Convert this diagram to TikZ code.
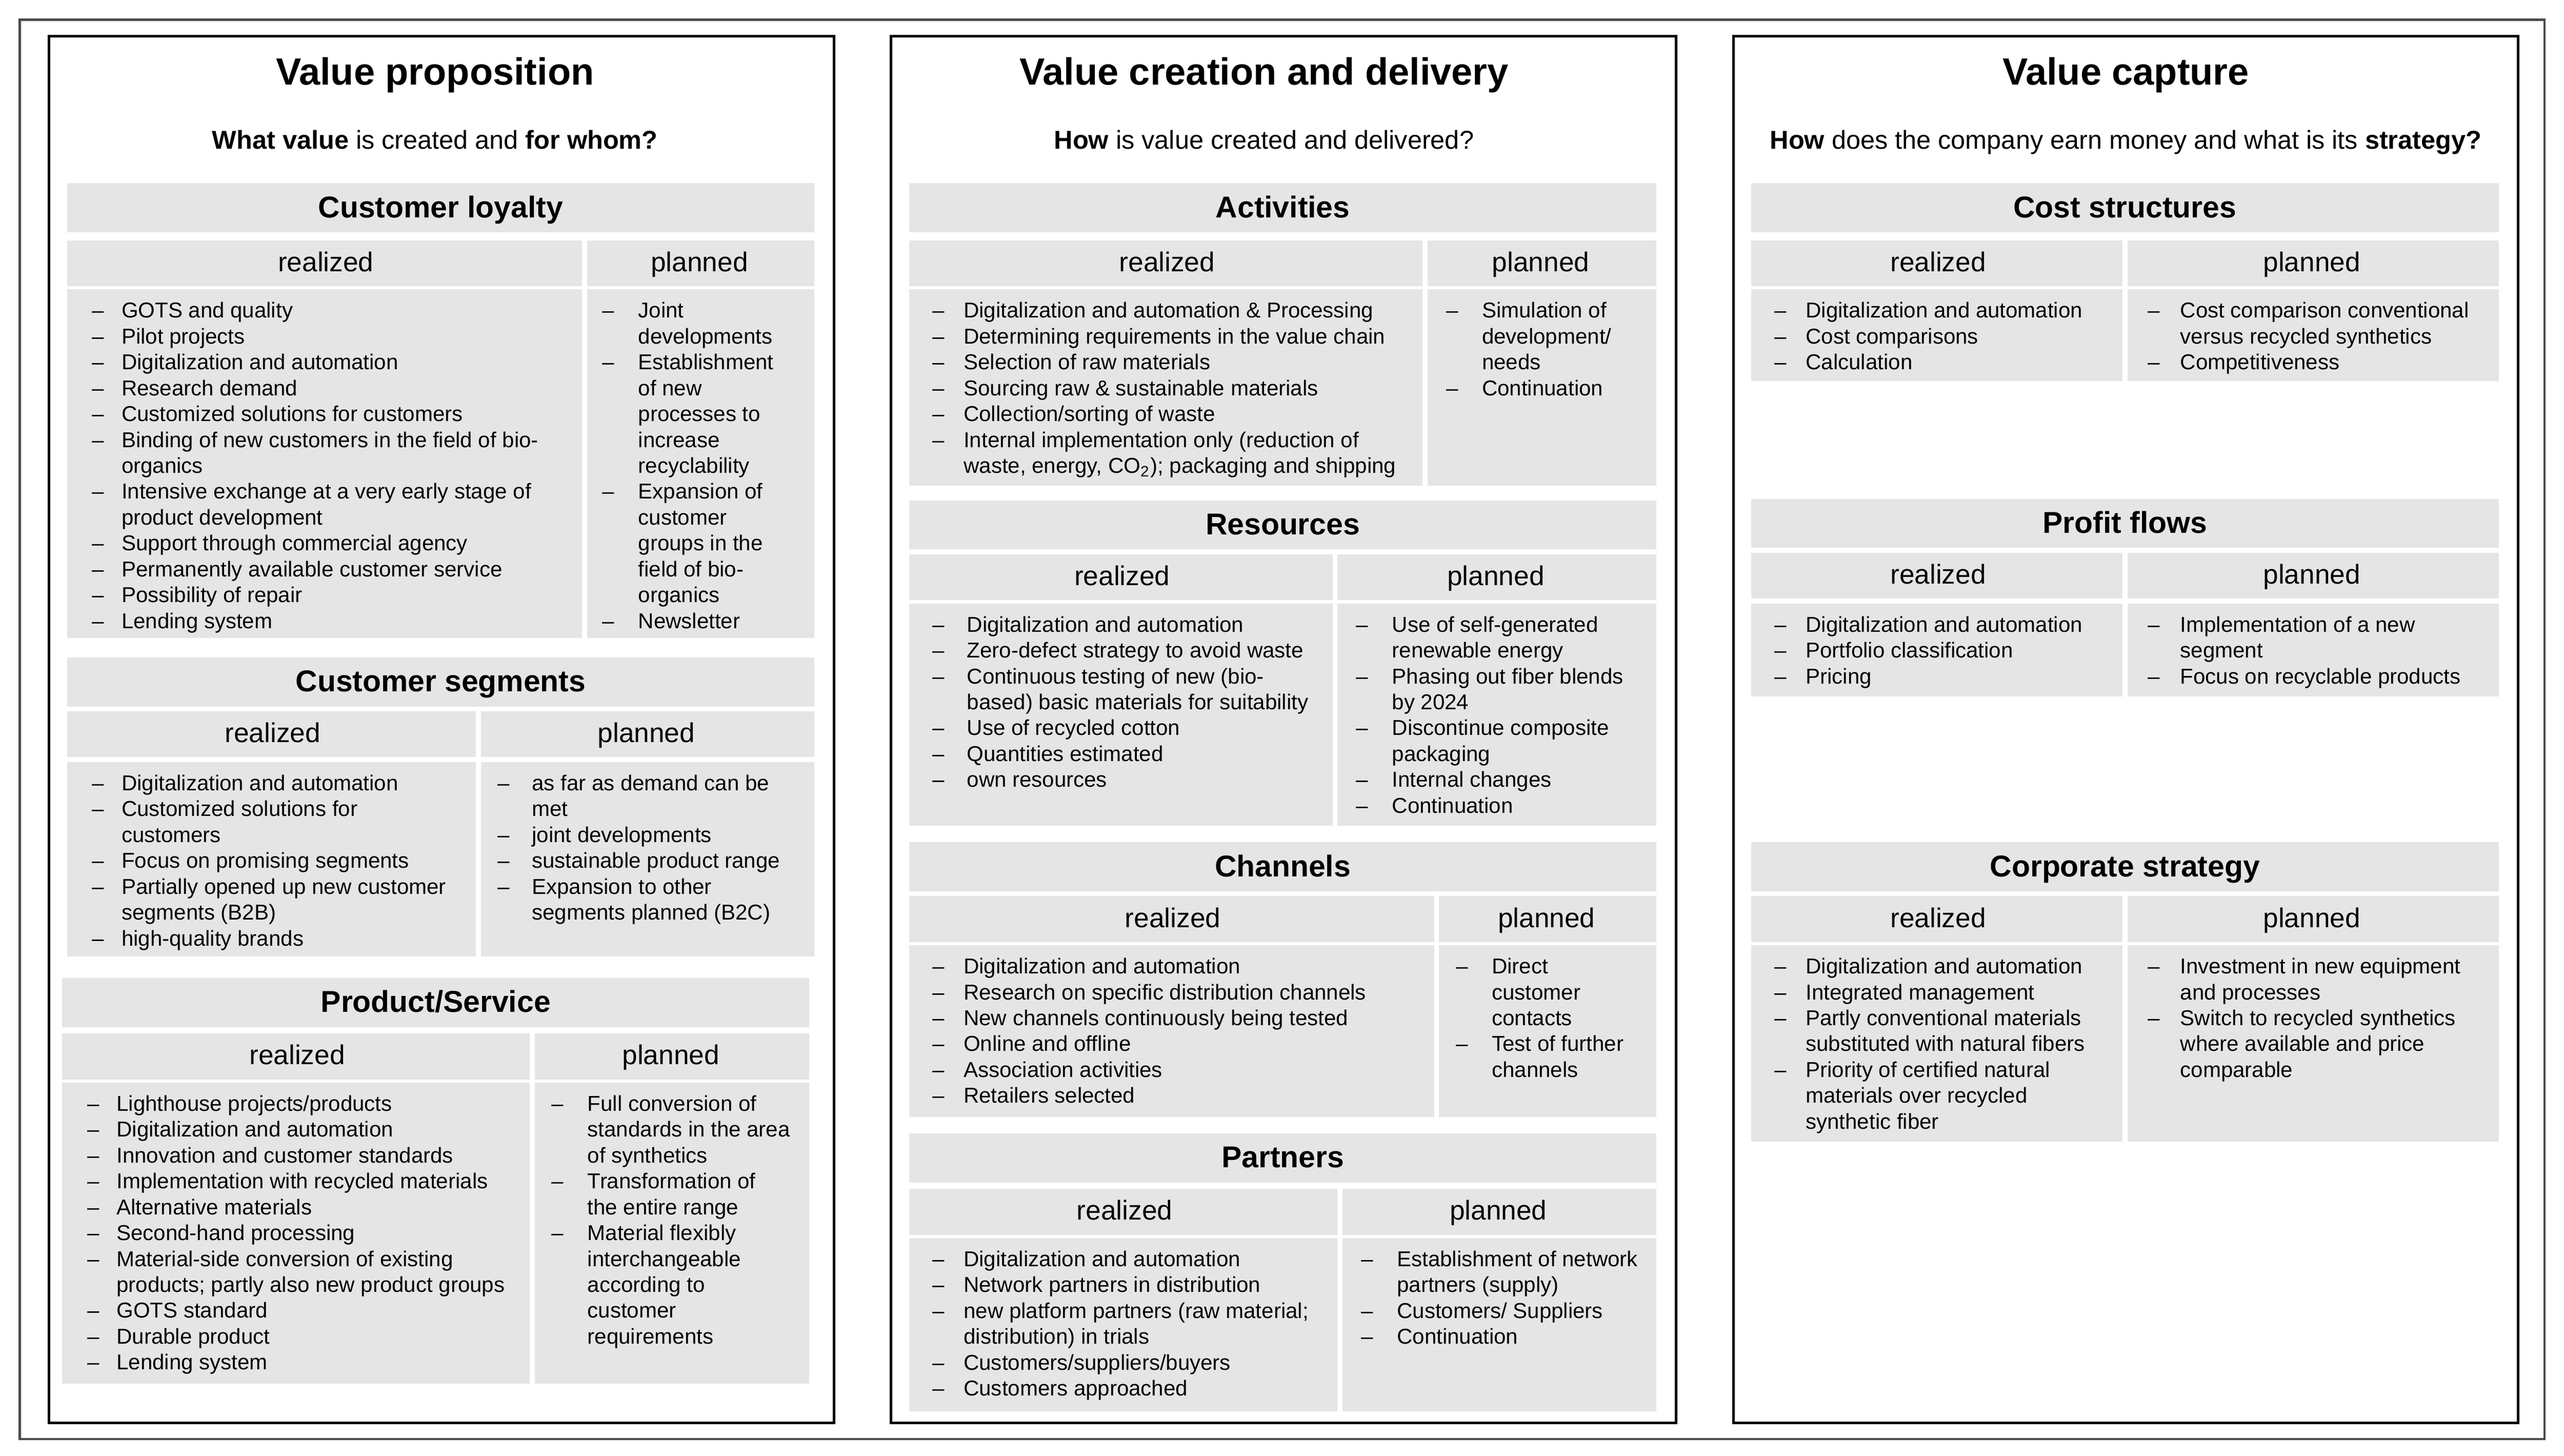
\documentclass[tikz,border=0pt]{standalone}
\usepackage{fontspec}
\setmainfont{Liberation Sans}
\usepackage{array}
\begin{document}
\begin{tikzpicture}[x=0.02cm,y=-0.02cm]
\tikzset{bx/.style={fill=black!10},
 sectt/.style={anchor=base,font=\fontsize{10.5}{12}\selectfont\bfseries},
 subt/.style={anchor=base,font=\fontsize{9.5}{11}\selectfont},
 ptitle/.style={anchor=base,font=\fontsize{13.2}{15}\selectfont\bfseries},
 psub/.style={anchor=base,font=\fontsize{9}{11}\selectfont},
 cell/.style={anchor=north west,inner sep=0pt,font=\fontsize{7.5}{9}\selectfont},
 panel/.style={draw=black,line width=0.9pt,fill=white}}
\newcommand\sect[9]{%
 \fill[bx] (#1,#4) rectangle (#2,#4+30);
 \node[sectt] (#9t) at ({(#1+#2)/2},#4+21) {#8};
 \fill[bx] (#1,#5) rectangle (#3-1.5,#5+28); \fill[bx] (#3+1.5,#5) rectangle (#2,#5+28);
 \node[subt] (#9r) at ({(#1+#3)/2},#5+19) {realized};
 \node[subt] (#9p) at ({(#3+#2)/2},#5+19) {planned};
 \fill[bx] (#1,#6) rectangle (#3-1.5,#7); \fill[bx] (#3+1.5,#6) rectangle (#2,#7);}
\useasboundingbox (0,0) rectangle (1568,890);
\fill[white] (0,0) rectangle (1568,890);
\draw[black!70,line width=0.8pt] (12,12) rectangle (1556,880);
\draw[panel] (30,22) rectangle (510,870);
\draw[panel] (545,22) rectangle (1025,870);
\draw[panel] (1060,22) rectangle (1540,870);
% panel titles
\node[ptitle] (t1) at (266,52) {Value proposition};
\node[psub] (s1) at (266,91) {\textbf{What value} is created and \textbf{for whom?}};
\node[ptitle] (t2) at (773,52) {Value creation and delivery};
\node[psub] (s2) at (773,91) {\textbf{How} is value created and delivered?};
\node[ptitle] (t3) at (1300,52) {Value capture};
\node[psub] (s3) at (1300,91) {\textbf{How} does the company earn money and what is its \textbf{strategy?}};
% sections
\sect{41}{498}{357.5}{112}{147}{177}{390}{Customer loyalty}{cl}
\sect{41}{498}{292.5}{402}{435}{466}{585}{Customer segments}{cs}
\sect{38}{495}{325.5}{598}{632}{662}{846}{Product/Service}{ps}
\sect{556}{1013}{871.5}{112}{147}{177}{297}{Activities}{ac}
\sect{556}{1013}{816.5}{306}{339}{369}{505}{Resources}{rs}
\sect{556}{1013}{878.5}{515}{548}{578}{683}{Channels}{ch}
\sect{556}{1013}{819.5}{693}{727}{757}{863}{Partners}{pa}
\sect{1071}{1528}{1299.5}{112}{147}{177}{233}{Cost structures}{co}
\sect{1071}{1528}{1299.5}{305}{338}{369}{426}{Profit flows}{pf}
\sect{1071}{1528}{1299.5}{515}{548}{578}{698}{Corporate strategy}{cst}
% contents
\node[cell] (clr) at (56,183) {\begin{tabular}{@{}p{0.36cm}@{}l@{}}
–&GOTS and quality\\ –&Pilot projects\\ –&Digitalization and automation\\ –&Research demand\\
–&Customized solutions for customers\\ –&Binding of new customers in the field of bio-\\ &organics\\
–&Intensive exchange at a very early stage of\\ &product development\\ –&Support through commercial agency\\
–&Permanently available customer service\\ –&Possibility of repair\\ –&Lending system\end{tabular}};
\node[cell] (clp) at (368,183) {\begin{tabular}{@{}p{0.44cm}@{}l@{}}
–&Joint\\ &developments\\ –&Establishment\\ &of new\\ &processes to\\ &increase\\ &recyclability\\
–&Expansion of\\ &customer\\ &groups in the\\ &field of bio-\\ &organics\\ –&Newsletter\end{tabular}};
\node[cell] (csr) at (56,472) {\begin{tabular}{@{}p{0.36cm}@{}l@{}}
–&Digitalization and automation\\ –&Customized solutions for\\ &customers\\ –&Focus on promising segments\\
–&Partially opened up new customer\\ &segments (B2B)\\ –&high-quality brands\end{tabular}};
\node[cell] (csp) at (304,472) {\begin{tabular}{@{}p{0.42cm}@{}l@{}}
–&as far as demand can be\\ &met\\ –&joint developments\\ –&sustainable product range\\
–&Expansion to other\\ &segments planned (B2C)\end{tabular}};
\node[cell] (psr) at (53,668) {\begin{tabular}{@{}p{0.36cm}@{}l@{}}
–&Lighthouse projects/products\\ –&Digitalization and automation\\ –&Innovation and customer standards\\
–&Implementation with recycled materials\\ –&Alternative materials\\ –&Second-hand processing\\
–&Material-side conversion of existing\\ &products; partly also new product groups\\ –&GOTS standard\\
–&Durable product\\ –&Lending system\end{tabular}};
\node[cell] (psp) at (337,668) {\begin{tabular}{@{}p{0.44cm}@{}l@{}}
–&Full conversion of\\ &standards in the area\\ &of synthetics\\ –&Transformation of\\ &the entire range\\
–&Material flexibly\\ &interchangeable\\ &according to\\ &customer\\ &requirements\end{tabular}};
\node[cell] (acr) at (570,183) {\begin{tabular}{@{}p{0.38cm}@{}l@{}}
–&Digitalization and automation \& Processing\\ –&Determining requirements in the value chain\\
–&Selection of raw materials\\ –&Sourcing raw \& sustainable materials\\ –&Collection/sorting of waste\\
–&Internal implementation only (reduction of\\ &waste, energy, CO\textsubscript{2}); packaging and shipping\end{tabular}};
\node[cell] (acp) at (884,183) {\begin{tabular}{@{}p{0.44cm}@{}l@{}}
–&Simulation of\\ &development/\\ &needs\\ –&Continuation\end{tabular}};
\node[cell] (rsr) at (570,375) {\begin{tabular}{@{}p{0.42cm}@{}l@{}}
–&Digitalization and automation\\ –&Zero-defect strategy to avoid waste\\ –&Continuous testing of new (bio-\\
&based) basic materials for suitability\\ –&Use of recycled cotton\\ –&Quantities estimated\\ –&own resources\end{tabular}};
\node[cell] (rsp) at (829,375) {\begin{tabular}{@{}p{0.44cm}@{}l@{}}
–&Use of self-generated\\ &renewable energy\\ –&Phasing out fiber blends\\ &by 2024\\ –&Discontinue composite\\
&packaging\\ –&Internal changes\\ –&Continuation\end{tabular}};
\node[cell] (chr) at (570,584) {\begin{tabular}{@{}p{0.38cm}@{}l@{}}
–&Digitalization and automation\\ –&Research on specific distribution channels\\
–&New channels continuously being tested\\ –&Online and offline\\ –&Association activities\\ –&Retailers selected\end{tabular}};
\node[cell] (chp) at (890,584) {\begin{tabular}{@{}p{0.44cm}@{}l@{}}
–&Direct\\ &customer\\ &contacts\\ –&Test of further\\ &channels\end{tabular}};
\node[cell] (par) at (570,763) {\begin{tabular}{@{}p{0.38cm}@{}l@{}}
–&Digitalization and automation\\ –&Network partners in distribution\\ –&new platform partners (raw material;\\
&distribution) in trials\\ –&Customers/suppliers/buyers\\ –&Customers approached\end{tabular}};
\node[cell] (pap) at (832,763) {\begin{tabular}{@{}p{0.44cm}@{}l@{}}
–&Establishment of network\\ &partners (supply)\\ –&Customers/ Suppliers\\ –&Continuation\end{tabular}};
\node[cell] (cor) at (1085,183) {\begin{tabular}{@{}p{0.38cm}@{}l@{}}
–&Digitalization and automation\\ –&Cost comparisons\\ –&Calculation\end{tabular}};
\node[cell] (cop) at (1313,183) {\begin{tabular}{@{}p{0.4cm}@{}l@{}}
–&Cost comparison conventional\\ &versus recycled synthetics\\ –&Competitiveness\end{tabular}};
\node[cell] (pfr) at (1085,375) {\begin{tabular}{@{}p{0.38cm}@{}l@{}}
–&Digitalization and automation\\ –&Portfolio classification\\ –&Pricing\end{tabular}};
\node[cell] (pfp) at (1313,375) {\begin{tabular}{@{}p{0.4cm}@{}l@{}}
–&Implementation of a new\\ &segment\\ –&Focus on recyclable products\end{tabular}};
\node[cell] (cstr) at (1085,584) {\begin{tabular}{@{}p{0.38cm}@{}l@{}}
–&Digitalization and automation\\ –&Integrated management\\ –&Partly conventional materials\\
&substituted with natural fibers\\ –&Priority of certified natural\\ &materials over recycled\\ &synthetic fiber\end{tabular}};
\node[cell] (cstp) at (1313,584) {\begin{tabular}{@{}p{0.4cm}@{}l@{}}
–&Investment in new equipment\\ &and processes\\ –&Switch to recycled synthetics\\ &where available and price\\ &comparable\end{tabular}};
\end{tikzpicture}
\end{document}
